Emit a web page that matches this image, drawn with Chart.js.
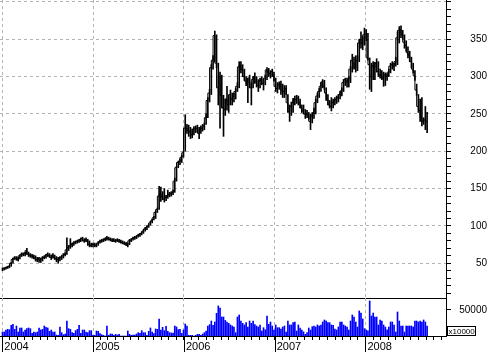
<!DOCTYPE html>
<html>
<head>
<meta charset="utf-8">
<script src="https://cdn.jsdelivr.net/npm/chart.js@4.4.0/dist/chart.umd.min.js"></script>
<style>
  html, body { margin: 0; padding: 0; background: #fff; }
  #wrap { position: relative; width: 487px; height: 352px; }
  canvas { position: absolute; left: 0; top: 0; }
</style>
</head>
<body>
<div id="wrap">
  <canvas id="priceChart" width="487" height="352"></canvas>
  <canvas id="volumeChart" width="487" height="352"></canvas>
</div>
<script>
// weekly bars, the first one is the week ending Fri 2 Jan 2004
const firstBarDay = 1; // days after 1 Jan 2004
const years = [2004, 2005, 2006, 2007, 2008];

const close2004 = [42,43,44,45,46,50,55,57,57,55,60,62,62,63,67,62,61,60,59,57,55,56,54,57,58,60,62,60,58,61,58,56,55,57,58,61,62,68,71,73,75,77,78,79,80,82,83,80,82,80,75,74,75];
const high2004  = [44,44,45,46,47,51,57,59,59,58,61,64,64,65,70,65,63,62,61,60,58,58,57,59,60,62,64,63,61,63,61,59,58,59,60,63,64,84,74,83,77,79,80,81,82,84,85,83,84,82,80,77,77];
const low2004   = [40,41,42,43,44,46,50,55,54,53,56,59,60,60,62,59,58,57,56,53,52,51,51,53,56,57,59,58,55,57,55,52,50,53,55,57,60,62,67,70,72,74,76,77,78,79,80,78,79,74,72,72,72];

const close2005 = [75,74,77,79,80,81,82,84,83,82,81,81,80,81,80,79,78,77,76,74,80,81,83,84,85,87,88,90,93,96,98,100,104,107,111,118,122,140,143,139,136,138,140,142,143,145,160,178,185,186,192,198];
const high2005  = [77,76,79,81,82,83,84,86,85,84,83,83,82,83,82,81,80,79,78,77,82,83,85,86,87,89,90,92,95,98,100,102,106,109,113,120,124,153,152,146,150,141,148,145,146,148,164,180,187,190,195,200];
const low2005   = [72,72,74,77,78,79,80,81,81,80,79,79,78,79,78,77,76,75,74,72,75,79,81,82,83,85,86,88,90,93,95,98,101,104,108,110,118,122,133,135,132,134,137,139,140,142,145,160,178,182,185,192];

const close2006 = [231,231,228,226,222,229,230,231,224,229,231,234,245,268,278,312,322,355,318,285,300,275,258,256,270,262,276,270,273,280,287,313,315,309,300,294,291,298,285,296,300,293,288,294,296,291,298,309,306,304,307,302];
const high2006  = [249,236,235,232,230,233,234,235,232,234,236,238,250,272,283,316,328,361,356,318,306,302,275,270,287,275,282,278,278,284,292,320,320,316,310,300,298,302,292,300,305,300,296,298,300,296,302,312,311,308,310,306];
const low2006   = [200,224,220,217,218,222,225,226,217,224,227,229,236,245,266,276,310,320,312,262,231,258,220,248,255,252,262,262,266,270,280,285,305,300,295,288,265,285,262,285,291,286,280,285,289,282,289,296,300,298,300,294];

const close2007 = [287,284,289,290,282,280,284,265,253,260,265,270,269,271,265,258,254,250,250,248,240,247,251,265,274,280,287,293,287,278,270,262,260,265,267,269,272,276,281,292,296,293,295,310,322,318,312,322,345,350,344,356];
const high2007  = [298,292,293,294,290,288,288,276,262,266,271,274,275,274,270,262,262,256,255,252,250,252,258,270,278,284,292,296,295,285,276,268,272,270,272,274,276,280,285,296,298,298,300,314,330,326,328,328,350,360,354,365];
const low2007   = [280,278,283,276,272,272,276,252,240,248,252,262,264,262,258,252,250,244,245,243,229,238,244,250,265,272,280,285,282,268,262,258,254,258,262,264,266,270,274,280,288,286,286,292,306,310,306,308,320,338,336,342];

const close2008 = [357,325,316,300,315,312,318,307,302,303,298,302,300,306,314,316,314,320,352,362,363,356,346,342,332,328,320,310,301,282,260,255,245,240,242,240];
const high2008  = [363,358,325,318,320,319,324,320,310,308,306,305,304,310,318,320,318,326,360,367,368,362,356,348,340,334,326,318,308,290,276,270,272,245,260,252];
const low2008   = [348,322,283,280,296,296,306,300,298,296,287,288,295,300,305,310,308,314,316,345,352,350,338,334,325,320,312,305,295,275,252,240,234,236,229,225];

// volume, axis unit is x10000
const vol2004 = [7700,7700,11500,12800,12000,20500,22400,12800,19200,7700,15400,15400,7700,11500,14100,15400,14100,5100,7700,6400,7700,15400,11500,12800,19200,16700,15400,9000,11500,7700,7700,1900,1300,17300,6400,2600,3800,28800,14100,12800,6400,5100,10300,12800,20500,5100,11500,11500,7700,6400,10300,10300,1300];
const vol2005 = [1300,9600,9000,4500,2600,1300,0,19200,1300,3800,3800,1300,3200,1900,3200,0,0,0,0,9600,3200,1300,1900,1900,3800,6400,5100,10300,6400,6400,1300,9000,15400,7700,4500,13500,12800,32700,11500,16700,10300,18600,9000,6400,5800,5800,19200,17300,12200,12800,5100,11500];
const vol2006 = [23100,19200,1300,1300,1300,0,1300,3200,3200,1300,3800,6400,9600,19200,21800,28800,20500,26900,43600,57700,53800,36500,36500,30000,26900,24400,21200,19200,17300,6400,36500,40400,28800,24400,21200,25600,17300,28800,24400,28800,22000,19200,17300,21200,9600,16000,12000,38500,22400,26900,19200,11500];
const vol2007 = [21200,16000,16000,13500,17300,19200,7700,28800,21200,21200,25600,26900,9600,21200,15400,11500,8000,3200,6400,15400,11500,17900,19200,17300,21200,19200,21200,26900,30800,28800,25600,25600,21200,20500,13500,11500,17300,26900,26900,21200,19200,17300,11500,28800,40400,36500,26900,17300,48100,44200,32700,14100];
const vol2008 = [11500,10000,67300,38500,44200,36500,36500,21200,30800,28800,21200,17300,12000,17300,26900,26900,21200,7700,46100,28800,19200,19200,7700,19200,19200,19200,19200,17300,28800,28800,26900,28800,26900,30800,26900,19200];

const closes = [].concat(close2004, close2005, close2006, close2007, close2008);
const highs = [].concat(high2004, high2005, high2006, high2007, high2008);
const lows = [].concat(low2004, low2005, low2006, low2007, low2008);
const volumes = [].concat(vol2004, vol2005, vol2006, vol2007, vol2008);

// x axis runs in weeks counted from 1 Jan 2004
const xMin = -1.3;
const xMax = 255;
const gridGrey = '#b4b4b4';
const clear = 'rgba(0,0,0,0)';

function idToCtx(id) {
    let canvas = document.getElementById(id);
    return canvas.getContext('2d');
}

function weeksFrom2004(y, m) {
    return (Date.UTC(y, m, 1) - Date.UTC(2004, 0, 1)) / 86400000 / 7;
}

const yearWeeks = years.map(y => weeksFrom2004(y, 0));
const monthWeeks = [];
years.forEach(y => {
    for (let m = 0; m < 12; m++) {
        let w = weeksFrom2004(y, m);
        if (w <= xMax) monthWeeks.push(w);
    }
});
const isYear = v => yearWeeks.some(w => Math.abs(w - v) < 0.01);
const weekX = closes.map((_, i) => (firstBarDay + 7 * i) / 7);

Chart.defaults.font.family = "'Liberation Sans', Arial, sans-serif";
Chart.defaults.color = '#000';

const yearMarks = {
    id: 'yearMarks',
    afterDraw(chart) {
        const {ctx, chartArea} = chart;
        const x = chart.scales.x;
        ctx.save();
        ctx.strokeStyle = '#000';
        ctx.lineWidth = 1;
        yearWeeks.forEach(w => {
            let px = Math.round(x.getPixelForValue(w)) + 0.5;
            ctx.beginPath();
            ctx.moveTo(px, chartArea.bottom);
            ctx.lineTo(px, chart.height);
            ctx.stroke();
        });
        // unit box under the volume axis
        let bx = chartArea.right + 1.5, by = chartArea.bottom - 9.5;
        ctx.strokeRect(bx, by, 28, 9);
        ctx.fillStyle = '#000';
        ctx.font = "8px 'Liberation Sans', Arial, sans-serif";
        ctx.textBaseline = 'middle';
        ctx.fillText('x10000', bx + 1, by + 5);
        ctx.restore();
    }
};

new Chart(idToCtx('priceChart'), {
    type: 'bar',
    data: {
        datasets: [{
            type: 'bar',
            data: weekX.map((x, i) => ({x: x, y: [lows[i], highs[i]]})),
            backgroundColor: '#000',
            borderWidth: 0,
            barThickness: 1,
            order: 2,
        }, {
            type: 'line',
            data: weekX.map((x, i) => ({x: x, y: closes[i]})),
            borderColor: '#000',
            borderWidth: 1,
            pointRadius: 0,
            stepped: 'after',
            order: 1,
        }]
    },
    options: {
        responsive: false,
        animation: false,
        layout: {padding: {top: 0, left: 0, right: 0, bottom: 54}},
        plugins: {legend: {display: false}, tooltip: {enabled: false}},
        scales: {
            x: {
                type: 'linear', min: xMin, max: xMax, offset: false,
                afterBuildTicks: s => { s.ticks = yearWeeks.map(v => ({value: v})); },
                ticks: {display: false},
                grid: {color: gridGrey, drawTicks: false, offset: false},
                border: {color: '#000', width: 1, dash: [3, 3]},
                afterFit: s => { s.height = 0; s.paddingLeft = 0; s.paddingRight = 0; },
            },
            y: {
                position: 'right', min: 3.5, max: 402.6,
                afterBuildTicks: s => {
                    let t = [];
                    for (let v = 10; v <= 400; v += 10) t.push({value: v});
                    s.ticks = t;
                },
                ticks: {
                    autoSkip: false,
                    callback: v => (v % 50 === 0 && v <= 350) ? String(v) : '',
                    crossAlign: 'far', padding: 16,
                    font: {size: 10}, color: '#000',
                },
                grid: {
                    color: c => (c.tick && c.tick.value % 50 === 0) ? gridGrey : clear,
                    tickColor: '#000', tickLength: 5, tickWidth: 1,
                },
                border: {color: '#000', width: 1, dash: [3, 3]},
                afterFit: s => { s.width = 41; s.paddingTop = 0; s.paddingBottom = 0; },
            }
        }
    }
});

new Chart(idToCtx('volumeChart'), {
    type: 'bar',
    data: {
        datasets: [{
            data: weekX.map((x, i) => ({x: x, y: volumes[i]})),
            backgroundColor: '#0000ff',
            borderWidth: 0,
            barThickness: 1,
        }]
    },
    options: {
        responsive: false,
        animation: false,
        layout: {padding: {top: 298, left: 0, right: 0, bottom: 0}},
        plugins: {legend: {display: false}, tooltip: {enabled: false}},
        scales: {
            x: {
                type: 'linear', min: xMin, max: xMax, offset: false,
                afterBuildTicks: s => { s.ticks = monthWeeks.map(v => ({value: v})); },
                ticks: {
                    autoSkip: false, maxRotation: 0, minRotation: 0,
                    callback: v => {
                        let i = yearWeeks.findIndex(w => Math.abs(w - v) < 0.01);
                        return i < 0 ? '' : String(years[i]);
                    },
                    align: 'start', labelOffset: 2, padding: 0,
                    font: {size: 11}, color: '#000',
                },
                grid: {
                    color: c => (c.tick && isYear(c.tick.value)) ? gridGrey : clear,
                    tickColor: '#000', tickLength: 4, tickWidth: 1, offset: false,
                },
                border: {color: '#000', width: 1, dash: [3, 3]},
                afterFit: s => { s.height = 16; s.paddingLeft = 0; s.paddingRight = 0; },
            },
            y: {
                position: 'right', min: 0, max: 73000,
                afterBuildTicks: s => { s.ticks = [{value: 50000}]; },
                ticks: {
                    autoSkip: false,
                    callback: v => String(v),
                    crossAlign: 'far', padding: 5,
                    font: {size: 10}, color: '#000',
                },
                grid: {drawOnChartArea: false, tickColor: '#000', tickLength: 5, tickWidth: 1},
                border: {color: '#000', width: 1},
                afterFit: s => { s.width = 41; s.paddingTop = 0; s.paddingBottom = 0; },
            }
        }
    },
    plugins: [yearMarks]
});
</script>
</body>
</html>
